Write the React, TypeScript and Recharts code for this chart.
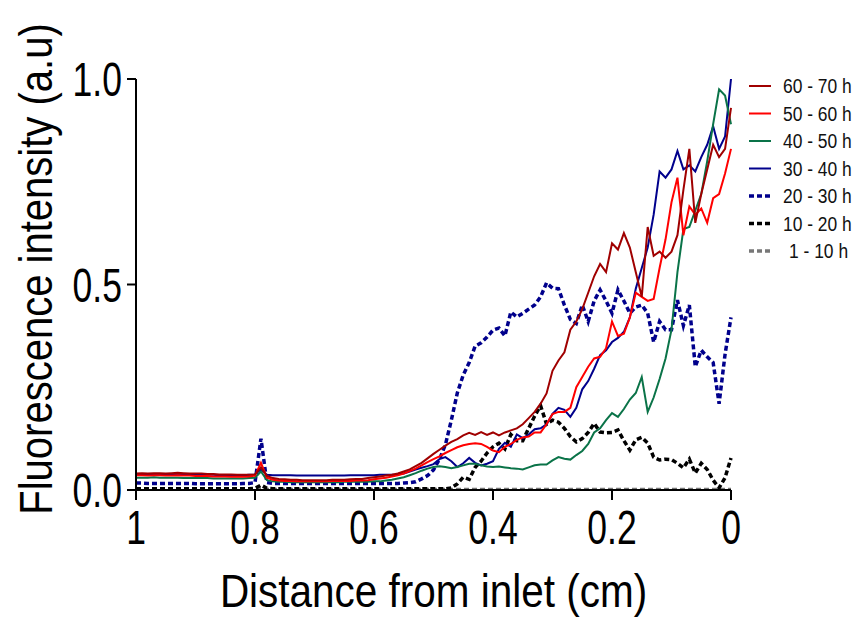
import { LineChart, Line, XAxis, YAxis } from 'recharts';

// distance from inlet (cm), 1 -> 0
const X = [
  1.0, 0.99, 0.98, 0.97, 0.96, 0.95, 0.94, 0.93, 0.92, 0.91,
  0.9, 0.89, 0.88, 0.87, 0.86, 0.85, 0.84, 0.83, 0.82, 0.81,
  0.8, 0.79, 0.78, 0.77, 0.76, 0.75, 0.74, 0.73, 0.72, 0.71,
  0.7, 0.69, 0.68, 0.67, 0.66, 0.65, 0.64, 0.63, 0.62, 0.61,
  0.6, 0.59, 0.58, 0.57, 0.56, 0.55, 0.54, 0.53, 0.52, 0.51,
  0.5, 0.49, 0.48, 0.47, 0.46, 0.45, 0.44, 0.43, 0.42, 0.41,
  0.4, 0.39, 0.38, 0.37, 0.36, 0.35, 0.34, 0.33, 0.32, 0.31,
  0.3, 0.29, 0.28, 0.27, 0.26, 0.25, 0.24, 0.23, 0.22, 0.21,
  0.2, 0.19, 0.18, 0.17, 0.16, 0.15, 0.14, 0.13, 0.12, 0.11,
  0.1, 0.09, 0.08, 0.07, 0.06, 0.05, 0.04, 0.03, 0.02, 0.01,
  0.0,
];

const H60_70 = [
  0.040, 0.041, 0.040, 0.041, 0.041, 0.040, 0.041, 0.042, 0.041, 0.040,
  0.040, 0.040, 0.039, 0.039, 0.038, 0.038, 0.038, 0.037, 0.037, 0.037,
  0.038, 0.055, 0.034, 0.029, 0.027, 0.026, 0.025, 0.025, 0.024, 0.024,
  0.024, 0.024, 0.024, 0.025, 0.025, 0.025, 0.026, 0.027, 0.027, 0.029,
  0.031, 0.033, 0.035, 0.037, 0.040, 0.045, 0.050, 0.058, 0.066, 0.077,
  0.088, 0.098, 0.108, 0.117, 0.124, 0.133, 0.139, 0.134, 0.141, 0.134,
  0.140, 0.133, 0.140, 0.145, 0.150, 0.160, 0.175, 0.190, 0.210, 0.235,
  0.290, 0.315, 0.335, 0.390, 0.410, 0.440, 0.480, 0.520, 0.550, 0.530,
  0.600, 0.585, 0.625, 0.590, 0.530, 0.470, 0.640, 0.570, 0.580, 0.565,
  0.580, 0.620, 0.730, 0.830, 0.650, 0.720, 0.780, 0.840, 0.810, 0.830,
  0.930,
];

const H50_60 = [
  0.036, 0.036, 0.035, 0.036, 0.036, 0.035, 0.035, 0.036, 0.035, 0.035,
  0.034, 0.034, 0.034, 0.033, 0.033, 0.033, 0.032, 0.032, 0.032, 0.033,
  0.035, 0.066, 0.030, 0.025, 0.023, 0.022, 0.022, 0.021, 0.021, 0.021,
  0.021, 0.021, 0.021, 0.022, 0.022, 0.022, 0.022, 0.023, 0.023, 0.024,
  0.026, 0.028, 0.030, 0.033, 0.036, 0.040, 0.046, 0.052, 0.060, 0.068,
  0.075, 0.082, 0.090, 0.097, 0.104, 0.109, 0.112, 0.114, 0.112, 0.105,
  0.096, 0.092, 0.105, 0.112, 0.122, 0.128, 0.130, 0.140, 0.140, 0.160,
  0.185, 0.190, 0.190, 0.200, 0.250, 0.275, 0.300, 0.320, 0.324, 0.345,
  0.410, 0.375, 0.380, 0.420, 0.480, 0.470, 0.460, 0.465, 0.540, 0.610,
  0.700, 0.760, 0.620, 0.690, 0.670, 0.685, 0.650, 0.710, 0.720, 0.770,
  0.830,
];

const H40_50 = [
  0.030, 0.030, 0.030, 0.031, 0.030, 0.030, 0.030, 0.030, 0.029, 0.029,
  0.029, 0.029, 0.029, 0.028, 0.028, 0.028, 0.028, 0.028, 0.028, 0.029,
  0.030, 0.045, 0.024, 0.021, 0.020, 0.020, 0.019, 0.019, 0.019, 0.019,
  0.019, 0.019, 0.019, 0.019, 0.019, 0.020, 0.020, 0.020, 0.020, 0.020,
  0.021, 0.021, 0.023, 0.025, 0.028, 0.031, 0.036, 0.041, 0.047, 0.052,
  0.056, 0.058, 0.056, 0.053, 0.056, 0.060, 0.064, 0.064, 0.060, 0.057,
  0.056, 0.057, 0.055, 0.053, 0.052, 0.050, 0.055, 0.060, 0.062, 0.062,
  0.072, 0.080, 0.076, 0.074, 0.085, 0.095, 0.112, 0.140, 0.150, 0.170,
  0.187, 0.178, 0.197, 0.220, 0.236, 0.275, 0.190, 0.225, 0.270, 0.320,
  0.390, 0.530, 0.635, 0.640, 0.680, 0.720, 0.800, 0.890, 0.975, 0.960,
  0.890,
];

const H30_40 = [
  0.038, 0.038, 0.038, 0.039, 0.038, 0.038, 0.038, 0.038, 0.038, 0.037,
  0.037, 0.037, 0.037, 0.037, 0.036, 0.036, 0.036, 0.036, 0.036, 0.037,
  0.038, 0.050, 0.037, 0.036, 0.036, 0.036, 0.036, 0.035, 0.035, 0.035,
  0.035, 0.035, 0.035, 0.035, 0.035, 0.035, 0.036, 0.036, 0.036, 0.036,
  0.036, 0.037, 0.037, 0.037, 0.038, 0.040, 0.045, 0.050, 0.054, 0.058,
  0.063, 0.075, 0.080, 0.070, 0.056, 0.065, 0.078, 0.066, 0.060, 0.064,
  0.070, 0.100, 0.115, 0.105, 0.135, 0.126, 0.135, 0.148, 0.150, 0.160,
  0.185, 0.200, 0.195, 0.178, 0.200, 0.245, 0.265, 0.295, 0.328, 0.340,
  0.360, 0.370, 0.385, 0.420, 0.490, 0.540, 0.590, 0.670, 0.775, 0.760,
  0.780, 0.825, 0.780, 0.790, 0.775, 0.810, 0.840, 0.885, 0.830, 0.860,
  1.000,
];

const H20_30 = [
  0.017, 0.017, 0.016, 0.016, 0.016, 0.016, 0.016, 0.016, 0.016, 0.016,
  0.015, 0.015, 0.015, 0.015, 0.015, 0.015, 0.015, 0.015, 0.016, 0.016,
  0.018, 0.125, 0.018, 0.016, 0.016, 0.016, 0.016, 0.016, 0.016, 0.016,
  0.016, 0.016, 0.016, 0.016, 0.016, 0.016, 0.016, 0.016, 0.016, 0.016,
  0.016, 0.016, 0.016, 0.016, 0.016, 0.017, 0.018, 0.020, 0.027, 0.035,
  0.049, 0.075, 0.110, 0.170, 0.236, 0.280, 0.310, 0.350, 0.358, 0.372,
  0.389, 0.394, 0.375, 0.433, 0.421, 0.430, 0.440, 0.450, 0.470, 0.504,
  0.491, 0.490, 0.450, 0.415, 0.405, 0.450, 0.410, 0.460, 0.487, 0.460,
  0.430, 0.487, 0.460, 0.430, 0.445, 0.450, 0.430, 0.360, 0.410, 0.390,
  0.390, 0.462, 0.400, 0.450, 0.300, 0.340, 0.324, 0.310, 0.210, 0.330,
  0.420,
];

const H10_20 = [
  0.003, 0.003, 0.003, 0.003, 0.003, 0.003, 0.003, 0.003, 0.003, 0.003,
  0.003, 0.003, 0.003, 0.003, 0.003, 0.003, 0.003, 0.003, 0.003, 0.003,
  0.004, 0.012, 0.004, 0.003, 0.003, 0.003, 0.003, 0.003, 0.003, 0.003,
  0.003, 0.003, 0.003, 0.003, 0.003, 0.003, 0.003, 0.003, 0.003, 0.003,
  0.003, 0.003, 0.003, 0.003, 0.003, 0.003, 0.003, 0.003, 0.003, 0.003,
  0.003, 0.003, 0.003, 0.005, 0.015, 0.031, 0.026, 0.055, 0.070, 0.090,
  0.105, 0.114, 0.100, 0.135, 0.120, 0.120, 0.150, 0.180, 0.205, 0.160,
  0.170, 0.165, 0.150, 0.130, 0.117, 0.125, 0.140, 0.162, 0.141, 0.139,
  0.140, 0.146, 0.120, 0.097, 0.122, 0.128, 0.114, 0.080, 0.073, 0.075,
  0.074, 0.065, 0.054, 0.075, 0.041, 0.065, 0.050, 0.024, 0.005, 0.030,
  0.078,
];

const H1_10 = [
  0.002, 0.002, 0.002, 0.002, 0.002, 0.002, 0.002, 0.002, 0.002, 0.002,
  0.002, 0.002, 0.002, 0.002, 0.002, 0.002, 0.002, 0.002, 0.002, 0.002,
  0.002, 0.003, 0.002, 0.002, 0.002, 0.002, 0.002, 0.002, 0.002, 0.002,
  0.002, 0.002, 0.002, 0.002, 0.002, 0.002, 0.002, 0.002, 0.002, 0.002,
  0.002, 0.002, 0.002, 0.002, 0.002, 0.002, 0.002, 0.002, 0.002, 0.002,
  0.002, 0.002, 0.002, 0.002, 0.002, 0.002, 0.002, 0.002, 0.002, 0.002,
  0.002, 0.002, 0.002, 0.002, 0.002, 0.002, 0.002, 0.002, 0.002, 0.002,
  0.002, 0.002, 0.002, 0.002, 0.002, 0.002, 0.002, 0.002, 0.002, 0.002,
  0.002, 0.002, 0.002, 0.002, 0.002, 0.002, 0.002, 0.002, 0.002, 0.002,
  0.002, 0.002, 0.002, 0.002, 0.002, 0.002, 0.002, 0.002, 0.002, 0.002,
  0.002,
];

const X_TICKS = [1, 0.8, 0.6, 0.4, 0.2, 0];
const Y_TICKS = [0, 0.5, 1];

const FONT = "'Liberation Sans', Arial, sans-serif";

// legend order (top -> bottom); lines drawn in reverse so 60-70 h sits on top
const SERIES = [
  { key: 'h60', name: '60 - 70 h', values: H60_70, color: '#A00000', dash: undefined, width: 2 },
  { key: 'h50', name: '50 - 60 h', values: H50_60, color: '#FF0000', dash: undefined, width: 2 },
  { key: 'h40', name: '40 - 50 h', values: H40_50, color: '#0A7348', dash: undefined, width: 2 },
  { key: 'h30', name: '30 - 40 h', values: H30_40, color: '#00008C', dash: undefined, width: 2 },
  { key: 'h20', name: '20 - 30 h', values: H20_30, color: '#00008C', dash: '5 3', width: 3.5 },
  { key: 'h10', name: '10 - 20 h', values: H10_20, color: '#000000', dash: '5 3', width: 3.5 },
  { key: 'h1', name: '1 - 10 h', values: H1_10, color: '#777777', dash: '5 3', width: 3 },
];

const data = X.map((x, i) => {
  const row: Record<string, number> = { x };
  SERIES.forEach(s => { row[s.key] = s.values[i]; });
  return row;
});

// condensed tick text (the original font is a narrow grotesque)
function XTick({ x, y, payload }: any) {
  return (
    <g transform={`translate(${x},${y})`}>
      <text transform="scale(0.74,1)" textAnchor="middle" dy="0.71em"
        fontSize={48} fontFamily={FONT} fill="#000">{String(payload.value)}</text>
    </g>
  );
}

function YTick({ x, y, payload }: any) {
  return (
    <g transform={`translate(${x},${y})`}>
      <text transform="scale(0.74,1)" textAnchor="end" dy="0.36em"
        fontSize={48} fontFamily={FONT} fill="#000">{Number(payload.value).toFixed(1)}</text>
    </g>
  );
}

function LegendBox() {
  return (
    <svg width={114} height={200} style={{ position: 'absolute', left: 745, top: 71 }}>
      {SERIES.map((s, i) => {
        const y = 15 + i * 27.5;
        const short = s.key === 'h1';
        return (
          <g key={s.key}>
            <line x1={4} x2={26} y1={y} y2={y} stroke={s.color}
              strokeWidth={s.dash ? 3.5 : 2} strokeDasharray={s.dash} />
            <g transform={`translate(${short ? 44 : 38},${y}) scale(0.85,1)`}>
              <text dy="0.36em" fontSize={20.5} fontFamily={FONT} fill="#111">{s.name}</text>
            </g>
          </g>
        );
      })}
    </svg>
  );
}

export default function App() {
  return (
    <div style={{ position: 'absolute', left: 0, top: 0, width: 859, height: 620, background: '#fff' }}>
      <LineChart width={859} height={620} data={data}
        margin={{ top: 79, right: 128, left: 36, bottom: 0 }}>
        <XAxis dataKey="x" type="number" domain={[0, 1]} reversed ticks={X_TICKS}
          height={130} stroke="#000" strokeWidth={2}
          tickSize={10} tickMargin={10} tick={<XTick />} />
        <YAxis type="number" domain={[0, 1]} ticks={Y_TICKS}
          width={100} stroke="#000" strokeWidth={2}
          tickSize={9} tickMargin={5} tick={<YTick />} />
        {[...SERIES].reverse().map(s => (
          <Line key={s.key} dataKey={s.key} name={s.name} type="linear"
            stroke={s.color} strokeWidth={s.width} strokeDasharray={s.dash}
            dot={false} activeDot={false} isAnimationActive={false} />
        ))}
      </LineChart>
      <LegendBox />
      <svg width={859} height={620} style={{ position: 'absolute', left: 0, top: 0, pointerEvents: 'none' }}>
        <g transform="translate(433.5,607) scale(0.88,1)">
          <text textAnchor="middle" fontSize={46} fontFamily={FONT} fill="#000">Distance from inlet (cm)</text>
        </g>
        <g transform="translate(52,269) rotate(-90) scale(0.87,1)">
          <text textAnchor="middle" fontSize={46} fontFamily={FONT} fill="#000">Fluorescence intensity (a.u)</text>
        </g>
      </svg>
    </div>
  );
}
